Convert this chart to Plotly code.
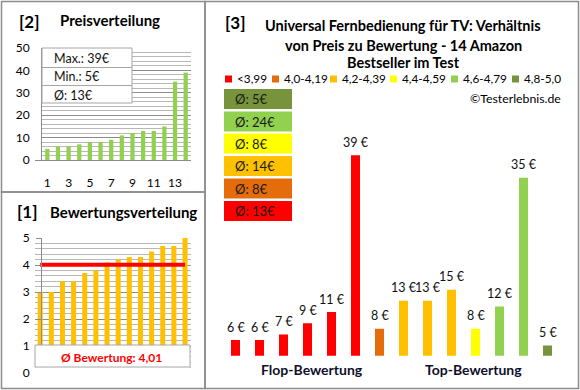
import plotly.graph_objects as go

W, H = 580, 390
FONT = "Lato"

# ---------------- data ----------------
price_rank = list(range(1, 15))
prices_sorted = [5, 6, 6, 7, 8, 8, 9, 11, 12, 13, 13, 15, 35, 39]
ratings_sorted = [3.0, 3.0, 3.4, 3.4, 3.7, 3.8, 4.1, 4.2, 4.3, 4.3, 4.5, 4.7, 4.7, 5.0]
avg_rating_label = "4,01"

group_labels = ["<3,99", "4,0-4,19", "4,2-4,39", "4,4-4,59", "4,6-4,79", "4,8-5,0"]
group_colors = ["#FF0000", "#E46C0A", "#FFC000", "#FFFF00", "#92D050", "#77933C"]
group_prices = [[6, 6, 7, 9, 11, 39], [8], [13, 13, 15], [8], [12, 35], [5]]

title3_lines = ["Universal Fernbedienung für TV: Verhältnis",
                "von Preis zu Bewertung - 14 Amazon",
                "Bestseller im Test"]


def X(px):
    return px / W


def Y(py):
    return 1 - py / H


fig = go.Figure()

# ---------- panel [2] Preisverteilung ----------
fig.add_trace(go.Bar(x=price_rank, y=prices_sorted, marker_color="#92D050", marker_line_width=0,
                     width=0.4, xaxis="x", yaxis="y", showlegend=False))

# ---------- panel [1] Bewertungsverteilung ----------
fig.add_trace(go.Bar(x=price_rank, y=ratings_sorted, marker_color="#FFC000", marker_line_width=0,
                     width=0.45, xaxis="x2", yaxis="y2", showlegend=False))
avg_rating = sum(ratings_sorted) / len(ratings_sorted)
fig.add_trace(go.Scatter(x=[price_rank[0], price_rank[-1]], y=[avg_rating, avg_rating],
                         mode="lines", line=dict(color="#FF0000", width=4),
                         xaxis="x2", yaxis="y2", showlegend=False))

# ---------- panel [3] ----------
annotations = []
shapes = []
pos = 1
for lab, col, prs in zip(group_labels, group_colors, group_prices):
    xs = list(range(pos, pos + len(prs)))
    fig.add_trace(go.Bar(x=xs, y=prs, marker_color=col, marker_line_width=0, width=0.375, base=0,
                         xaxis="x3", yaxis="y3", showlegend=False))
    for xv, p in zip(xs, prs):
        annotations.append(dict(x=xv, y=p, xref="x3", yref="y3", text=f"{p} €",
                                showarrow=False, yanchor="middle", yshift=13,
                                font=dict(family=FONT, size=12.5, color="#111111")))
    pos += len(prs)

gridmaj = "#8c8c8c"
gridmin = "#b8b8b8"

fig.update_layout(
    template="none",
    width=W, height=H, margin=dict(l=0, r=0, t=0, b=0, pad=0, autoexpand=False),
    paper_bgcolor="white", plot_bgcolor="white",
    barmode="overlay", showlegend=False,
    font=dict(family=FONT, color="#000000"),
    xaxis=dict(domain=[X(42), X(191)], range=[0.5, 14.5], tickvals=[1, 3, 5, 7, 9, 11, 13],
               showgrid=False, zeroline=False, showline=True, linecolor=gridmaj, automargin=False,
               ticks="", ticklabelstandoff=12, tickfont=dict(size=12, color="#000")),
    yaxis=dict(domain=[Y(160), Y(48)], range=[0, 50], dtick=10, showgrid=True, automargin=False,
               gridcolor=gridmaj, zeroline=False, showline=True, linecolor=gridmaj,
               minor=dict(dtick=2, showgrid=True, gridcolor=gridmin),
               ticks="", ticklabelstandoff=9, tickfont=dict(size=12, color="#000")),
    xaxis2=dict(domain=[X(34.6), X(190.6)], range=[0.5, 14.5], showticklabels=False, automargin=False,
                showgrid=False, zeroline=False, showline=True, linecolor=gridmaj, ticks=""),
    yaxis2=dict(domain=[Y(373), Y(238)], range=[0, 5], dtick=1, showgrid=True, automargin=False,
                gridcolor=gridmaj, zeroline=False, showline=True, linecolor=gridmaj,
                minor=dict(dtick=0.2, showgrid=True, gridcolor=gridmin),
                ticks="outside", ticklen=5, tickcolor=gridmaj, ticklabelstandoff=4,
                tickfont=dict(size=12, color="#000")),
    xaxis3=dict(domain=[X(223.5), X(559.5)], range=[0.5, 14.5], visible=False, automargin=False),
    yaxis3=dict(domain=[Y(355.7), Y(139)], range=[3.2, 41.9], visible=False, automargin=False),
)

# panel frames
border = dict(color="#8c8c8c", width=1.5)
for x0, y0, x1, y1 in [(1.5, 1.5, 205, 192), (1.5, 192, 205, 388.5), (205, 1.5, 578.5, 388.5)]:
    shapes.append(dict(type="rect", xref="paper", yref="paper", x0=X(x0), x1=X(x1),
                       y0=Y(y1), y1=Y(y0), line=border, fillcolor="rgba(0,0,0,0)", layer="below"))

# panel [2] info box
pmax, pmin = max(prices_sorted), min(prices_sorted)
pavg = int(sum(prices_sorted) / len(prices_sorted) + 0.5)
shapes.append(dict(type="rect", xref="paper", yref="paper", x0=X(42), x1=X(132), y0=Y(103), y1=Y(48),
                   line=dict(color="#a6a6a6", width=1), fillcolor="white", layer="above"))
for ly in (67.5, 85.5):
    shapes.append(dict(type="line", xref="paper", yref="paper", x0=X(42), x1=X(132), y0=Y(ly), y1=Y(ly),
                       line=dict(color="#a6a6a6", width=1), layer="above"))
for txt_, ty in [(f"Max.: {pmax}€", 58.5), (f"Min.: {pmin}€", 77), (f"Ø: {pavg}€", 95)]:
    annotations.append(dict(x=X(52), y=Y(ty), xref="paper", yref="paper", text=txt_, showarrow=False,
                            xanchor="left", yanchor="middle", font=dict(family=FONT, size=12.5, color="#111")))

# panel [1] info box
shapes.append(dict(type="rect", xref="paper", yref="paper", x0=X(35.5), x1=X(190), y0=Y(374.5), y1=Y(345),
                   line=dict(width=0), fillcolor="white", layer="above"))
shapes.append(dict(type="rect", xref="paper", yref="paper", x0=X(35), x1=X(190), y0=Y(367), y1=Y(345),
                   line=dict(color="#a6a6a6", width=1), fillcolor="white", layer="above"))
annotations.append(dict(x=X(111), y=Y(357), xref="paper", yref="paper",
                        text=f"<b>Ø Bewertung: {avg_rating_label}</b>", showarrow=False,
                        xanchor="center", yanchor="middle", font=dict(family=FONT, size=12, color="#FF0000")))


def txt(x, y, t, size, anchor="left", bold=True, color="#000"):
    annotations.append(dict(x=X(x), y=Y(y), xref="paper", yref="paper",
                            text=f"<b>{t}</b>" if bold else t, showarrow=False,
                            xanchor=anchor, yanchor="middle",
                            font=dict(family=FONT, size=size, color=color)))


txt(17, 21, "[2]", 17)
txt(58, 20, "Preisverteilung", 15)
txt(15, 212, "[1]", 17)
txt(48, 212, "Bewertungsverteilung", 15)
txt(223, 22, "[3]", 17)
for line, ly in zip(title3_lines, [26, 45, 63]):
    txt(403, ly, line, 14.5, anchor="center")
txt(563, 98, "©Testerlebnis.de", 12.3, anchor="right", bold=False)

# legend (squares + labels)
leg_sq_x = [225, 272, 330, 390, 451, 512]
for sx, lab, col in zip(leg_sq_x, group_labels, group_colors):
    shapes.append(dict(type="rect", xref="paper", yref="paper", x0=X(sx), x1=X(sx + 7),
                       y0=Y(82.5), y1=Y(75.5), line=dict(width=0), fillcolor=col))
    txt(sx + 9.5, 79, lab, 11.8, bold=False)

# average boxes
box_top = [89, 111.5, 133.5, 156, 178.5, 201]
for i, (col, prs) in enumerate(zip(group_colors[::-1], group_prices[::-1])):
    avg = int(sum(prs) / len(prs) + 0.5)
    y0 = box_top[i]
    shapes.append(dict(type="rect", xref="paper", yref="paper", x0=X(224), x1=X(292),
                       y0=Y(y0 + 20), y1=Y(y0), line=dict(width=0), fillcolor=col))
    txt(233, y0 + 10, f"Ø: {avg}€", 13, bold=False, color="#1a1a1a")

# category labels
txt(312, 369, "Flop-Bewertung", 14, anchor="center", color="#0f0f2a")
txt(473, 369, "Top-Bewertung", 14, anchor="center", color="#0f0f2a")

fig.update_layout(annotations=annotations, shapes=shapes)
fig.write_html(
    "out.html",
    config={"displayModeBar": False},
    post_script=("document.documentElement.style.margin='0';"
                 "document.body.style.margin='0';document.body.style.padding='0';"
                 "document.body.style.overflow='hidden';"),
)
